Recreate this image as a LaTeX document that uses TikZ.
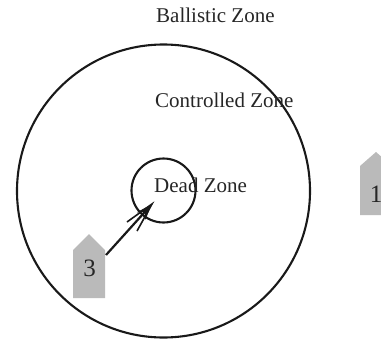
\documentclass[tikz,border=0pt]{standalone}
\usepackage{fontspec}
\setmainfont{Liberation Serif}
\usetikzlibrary{arrows.meta}
\tikzset{
  zone/.style={draw=black!90,line width=2.1pt,fill=none},
  lab/.style={font=\fontsize{21pt}{22pt}\selectfont,text=black!85,inner sep=0pt},
  num/.style={font=\fontsize{25pt}{26pt}\selectfont,text=black!85,inner sep=0pt},
  marker/.style={fill=black!27,draw=none},
  conn/.style={line width=2.2pt,black!90},
}
\begin{document}
\begin{tikzpicture}[x=1pt,y=-1pt]
\useasboundingbox (0,0) rectangle (381,341);
\clip (0,0) rectangle (381,341);
\fill[marker] (73,250) -- (89,234) -- (105,250) -- (105,298) -- (73,298) -- cycle;
\fill[marker] (360,166) -- (376,152) -- (392,166) -- (392,215) -- (360,215) -- cycle;
\node[zone,circle,minimum size=293pt,inner sep=0pt] (outer) at (163.5,191) {};
\node[zone,circle,minimum size=64pt,inner sep=0pt] (inner) at (163.5,190.5) {};
\node[lab,anchor=base west] (ballistic) at (156,22) {Ballistic Zone};
\node[lab,anchor=base west] (controlled) at (155,107.5) {Controlled Zone};
\node[lab,anchor=base west] (dead) at (154,192.5) {Dead Zone};
\node[num] (three) at (89.5,268) {3};
\node[num] (one) at (376,194) {1};
\coordinate (from) at (106,255);
\coordinate (to) at (152,204);
\coordinate (barba) at (127,222);
\coordinate (barbb) at (137,231);
\draw[conn,-{Stealth[length=16pt,width=11pt,inset=5pt]}] (from) -- (to);
\draw[conn,line width=1.6pt] (barba) -- (to) -- (barbb);
\end{tikzpicture}
\end{document}
